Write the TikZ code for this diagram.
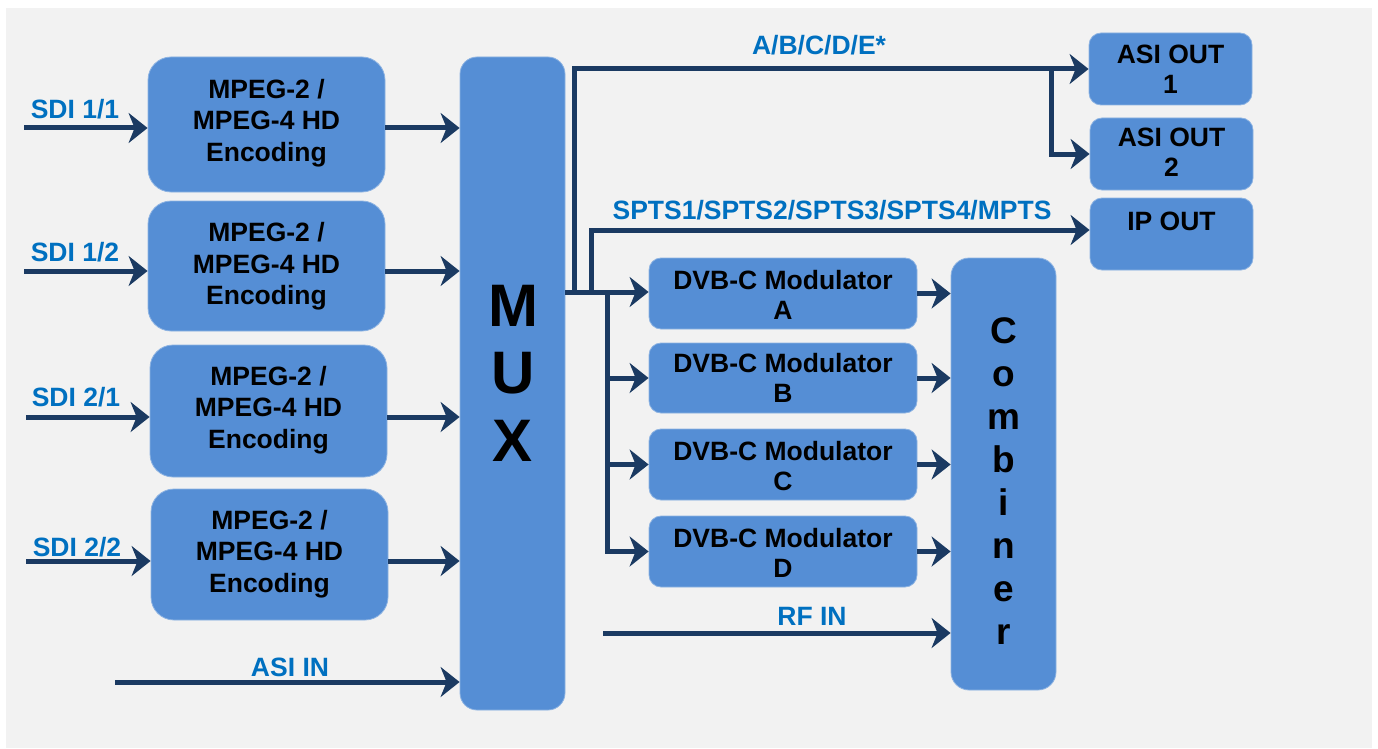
\documentclass[tikz,border=0pt]{standalone}
\usepackage{fontspec}
\setmainfont{Liberation Sans}
\usetikzlibrary{arrows.meta}
\definecolor{bgc}{HTML}{F2F2F2}
\definecolor{boxblue}{HTML}{558ED5}
\definecolor{boxedge}{HTML}{8DB3E2}
\definecolor{navy}{HTML}{1B3A62}
\definecolor{lblue}{HTML}{0070C0}
\tikzset{
  box/.style={draw=boxedge, line width=0.8pt, fill=boxblue, inner sep=0pt},
  enc/.style={box, rounded corners=23pt, minimum width=237pt},
  modbox/.style={box, rounded corners=12pt, minimum width=268pt, minimum height=71pt},
  outbox/.style={box, rounded corners=12pt, minimum width=163pt, minimum height=72pt},
  btxt/.style={font=\bfseries\fontsize{26.5}{31.5}\selectfont, align=center, inner sep=0pt, anchor=north, text=black},
  mtxt/.style={font=\bfseries\fontsize{26.5}{30}\selectfont, align=center, inner sep=0pt, anchor=north, text=black},
  lbl/.style={font=\bfseries\fontsize{26.5}{30}\selectfont, text=lblue, anchor=base, inner sep=0pt},
  conn/.style={draw=navy, line width=5pt, line join=miter, -{Stealth[length=19pt,width=30pt,inset=6pt]}},
}
\begin{document}
\begin{tikzpicture}[x=1pt,y=-1pt]
\useasboundingbox (0,0) rectangle (1378,749);
\fill[white] (0,0) rectangle (1378,749);
\fill[bgc] (6,8) rectangle (1372,748);

% encoders
\node[enc, minimum height=135pt] (e1) at (266.5,124.5) {};
\node[enc, minimum height=130pt] (e2) at (266.5,266) {};
\node[enc, minimum height=132pt] (e3) at (268.5,411) {};
\node[enc, minimum height=131pt] (e4) at (269.5,554.5) {};
\node[btxt] (e1t) at (266.5,79) {MPEG-2 /\\MPEG-4 HD\\Encoding};
\node[btxt] (e2t) at (266.5,222.5) {MPEG-2 /\\MPEG-4 HD\\Encoding};
\node[btxt] (e3t) at (268.5,366) {MPEG-2 /\\MPEG-4 HD\\Encoding};
\node[btxt] (e4t) at (269.5,510) {MPEG-2 /\\MPEG-4 HD\\Encoding};

% MUX
\node[box, rounded corners=17pt, minimum width=105pt, minimum height=653pt] (mux) at (512.5,383.5) {};
\node[font=\bfseries\fontsize{60}{67.5}\selectfont, align=center, inner sep=0pt, anchor=north] (muxt) at (513,285) {M\\U\\X};

% modulators
\node[modbox] (moda) at (783,293.5) {};
\node[modbox, minimum height=70pt] (modb) at (783,378) {};
\node[modbox] (modc) at (783,464.5) {};
\node[modbox] (modd) at (783,551.5) {};
\node[mtxt] (modat) at (783,270) {DVB-C Modulator\\A};
\node[mtxt] (modbt) at (783,353) {DVB-C Modulator\\B};
\node[mtxt] (modct) at (783,441) {DVB-C Modulator\\C};
\node[mtxt] (moddt) at (783,528) {DVB-C Modulator\\D};

% combiner
\node[box, rounded corners=18pt, minimum width=105pt, minimum height=432pt] (comb) at (1003.5,474) {};
\node[font=\bfseries\fontsize{37}{43}\selectfont, align=center, inner sep=0pt, anchor=north] (combt) at (1003.5,317) {C\\o\\m\\b\\i\\n\\e\\r};

% outputs
\node[outbox] (asi1) at (1170.5,69) {};
\node[outbox] (asi2) at (1171.5,154) {};
\node[outbox] (ipout) at (1171.5,234) {};
\node[mtxt] (asi1t) at (1170.5,45) {ASI OUT\\1};
\node[mtxt] (asi2t) at (1171.5,128) {ASI OUT\\2};
\node[mtxt] (ipoutt) at (1171.5,212) {IP OUT};

% inputs
\coordinate (s1) at (24,128);
\coordinate (s2) at (24,271);
\coordinate (s3) at (26,417);
\coordinate (s4) at (26,561);
\coordinate (ai) at (115,682);
\coordinate (rf) at (603,633);
\draw[conn] (s1) -- (s1 -| e1.west);
\draw[conn] (s2) -- (s2 -| e2.west);
\draw[conn] (s3) -- (s3 -| e3.west);
\draw[conn] (s4) -- (s4 -| e4.west);
\draw[conn] (e1.east |- s1) -- (s1 -| mux.west);
\draw[conn] (e2.east |- s2) -- (s2 -| mux.west);
\draw[conn] (e3.east |- s3) -- (s3 -| mux.west);
\draw[conn] (e4.east |- s4) -- (s4 -| mux.west);
\draw[conn] (ai) -- (ai -| mux.west);
\draw[conn] (rf) -- (rf -| comb.west);

\node[lbl] (l1) at (75,118) {SDI 1/1};
\node[lbl] (l2) at (75,261) {SDI 1/2};
\node[lbl] (l3) at (76,406) {SDI 2/1};
\node[lbl] (l4) at (77,556) {SDI 2/2};
\node[lbl] (lai) at (290,676) {ASI IN};
\node[lbl] (lrf) at (812,625) {RF IN};

% MUX outputs
\coordinate (v1) at (574,292);
\coordinate (v2) at (591,292);
\coordinate (v3) at (607,292);
\coordinate (t2) at (591,230);
\coordinate (b1) at (1051,69);
\draw[conn] (mux.east |- v1) -- (v1 -| moda.west);
\draw[conn] (v1) -- (v1 |- asi1.west) -- (asi1.west);
\draw[conn] (b1) -- (b1 |- asi2.west) -- (asi2.west);
\draw[conn] (v2) -- (t2) -- (t2 -| ipout.west);
\draw[conn] (v3) -- (v3 |- modd.west) -- (modd.west);
\draw[conn] (v3 |- modb.west) -- (modb.west);
\draw[conn] (v3 |- modc.west) -- (modc.west);
\node[lbl] (labc) at (819,55) {A/B/C/D/E*};
\node[lbl] (lspts) at (832,219) {SPTS1/SPTS2/SPTS3/SPTS4/MPTS};

% modulators to combiner
\draw[conn] (moda.east) -- (moda.east -| comb.west);
\draw[conn] (modb.east) -- (modb.east -| comb.west);
\draw[conn] (modc.east) -- (modc.east -| comb.west);
\draw[conn] (modd.east) -- (modd.east -| comb.west);
\end{tikzpicture}
\end{document}
